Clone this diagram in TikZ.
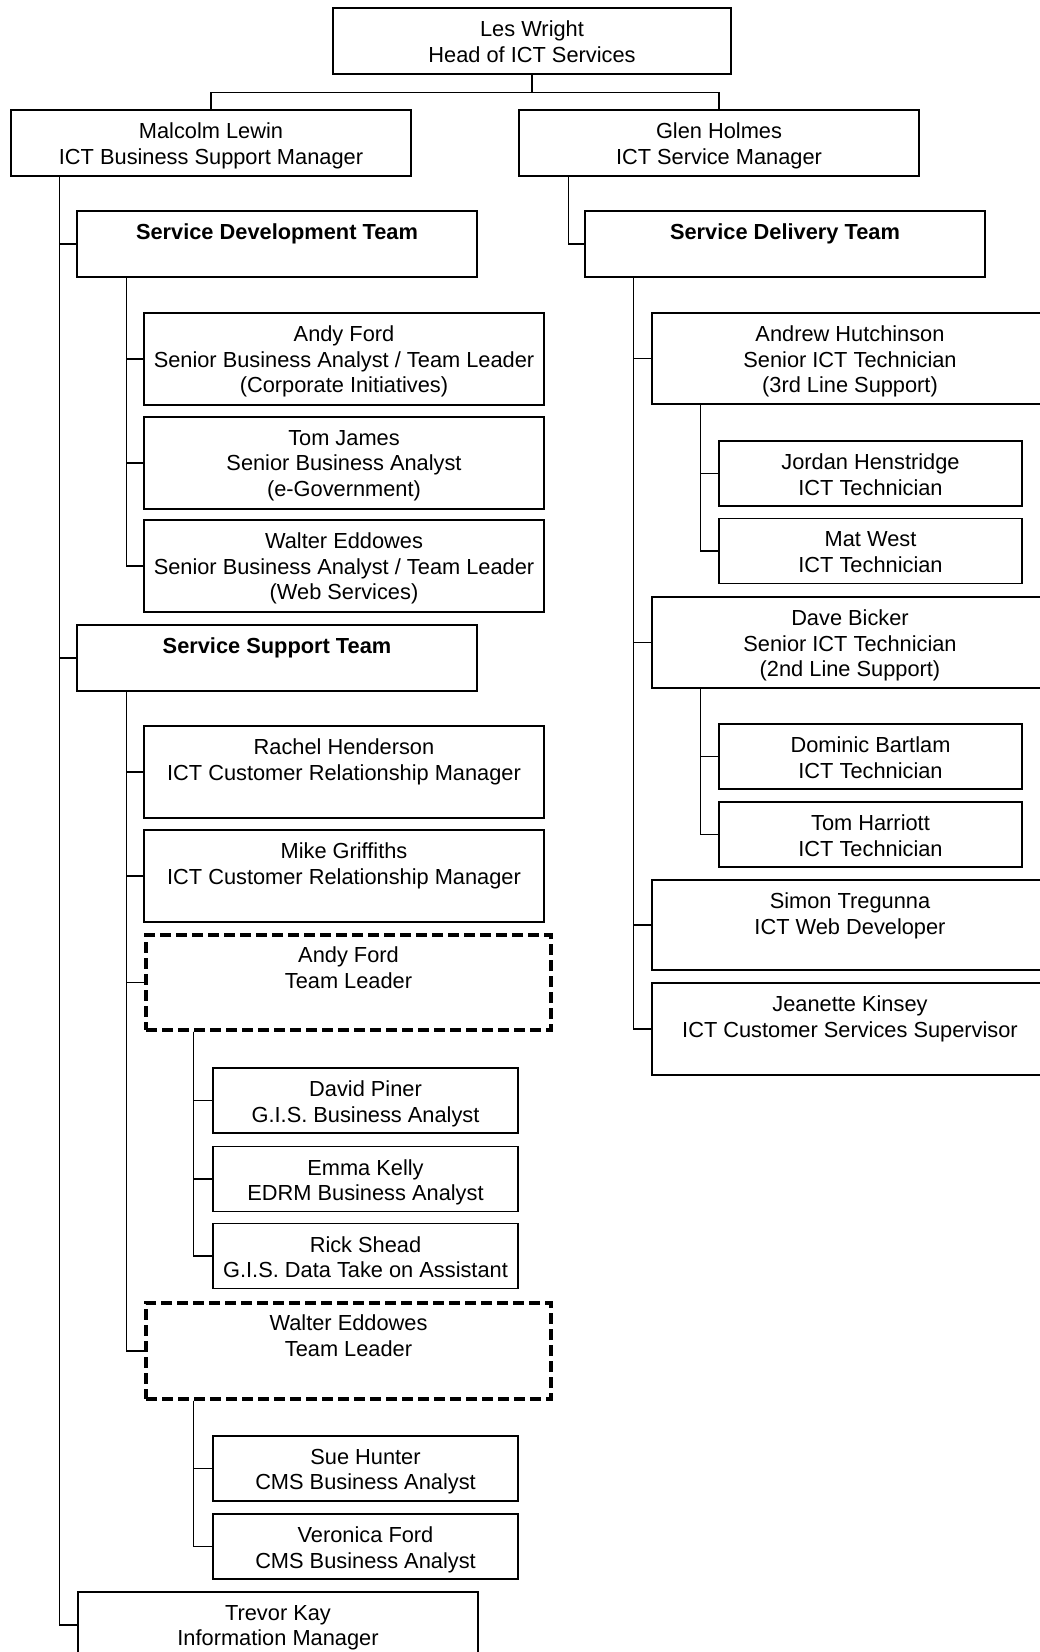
\documentclass[tikz,border=0pt]{standalone}
\usepackage{fontspec}
\setmainfont{Liberation Sans}
\usetikzlibrary{positioning,calc}
\tikzset{
  unittext/.style={anchor=north, inner sep=0pt, inner ysep=13.5pt, align=center, font=\fontsize{21.8}{25.5}\selectfont},
  unit/.style={draw=black, line width=1.1pt, rectangle, inner sep=0pt, label={[unittext]north:{#1}}},
  teamunit/.style={unit={\bfseries #1}},
  leadunit/.style={unit={#1}, line width=3.4pt, dash pattern=on 11pt off 5pt},
  wideunit/.style={minimum width=400pt},
  sideunit/.style={minimum width=396pt},
  smallunit/.style={minimum width=305pt},
  lowunit/.style={minimum height=66pt},
  highunit/.style={minimum height=92pt},
  link/.style={draw=black, line width=1.1pt}
}
\begin{document}
\begin{tikzpicture}[x=1pt, y=-1pt]
  \fill[white] (0,0) rectangle (1040,1652);
  \useasboundingbox (0,0) rectangle (1040,1652);
  \clip (0,0) rectangle (1040,1652);

  % top levels
  \node[unit={Les Wright\\Head of ICT Services}, minimum width=398pt, lowunit] (les) at (532,41) {};
  \node[unit={Malcolm Lewin\\ICT Business Support Manager}, wideunit, lowunit] (malcolm) at (211,143) {};
  \node[unit={Glen Holmes\\ICT Service Manager}, wideunit, lowunit] (glen) at (719,143) {};

  % left branch
  \node[teamunit={Service Development Team}, wideunit, lowunit] (sdev) at (277,244) {};
  \node[unit={Andy Ford\\Senior Business Analyst / Team Leader\\(Corporate Initiatives)}, wideunit, highunit] (andyf) at (344,359) {};
  \node[unit={Tom James\\Senior Business Analyst\\(e-Government)}, wideunit, highunit] (tomj) at (344,463) {};
  \node[unit={Walter Eddowes\\Senior Business Analyst / Team Leader\\(Web Services)}, wideunit, highunit] (waltere) at (344,566) {};
  \node[teamunit={Service Support Team}, wideunit, lowunit] (ssup) at (277,658) {};
  \node[unit={Rachel Henderson\\ICT Customer Relationship Manager}, wideunit, highunit] (rachel) at (344,772) {};
  \node[unit={Mike Griffiths\\ICT Customer Relationship Manager}, wideunit, highunit] (mike) at (344,876) {};
  \node[leadunit={Andy Ford\\Team Leader}, minimum width=405pt, minimum height=95pt] (andytl) at (348.5,982.5) {};
  \node[unit={David Piner\\G.I.S. Business Analyst}, smallunit, minimum height=65pt] (david) at (365.5,1100.5) {};
  \node[unit={Emma Kelly\\EDRM Business Analyst}, smallunit, minimum height=65pt] (emma) at (365.5,1179) {};
  \node[unit={Rick Shead\\G.I.S. Data Take on Assistant}, smallunit, minimum height=65pt] (rick) at (365.5,1256) {};
  \node[leadunit={Walter Eddowes\\Team Leader}, minimum width=405pt, minimum height=96pt] (waltertl) at (348.5,1351) {};
  \node[unit={Sue Hunter\\CMS Business Analyst}, smallunit, minimum height=65pt] (sue) at (365.5,1468.5) {};
  \node[unit={Veronica Ford\\CMS Business Analyst}, smallunit, minimum height=65pt] (veronica) at (365.5,1546.5) {};
  \node[unit={Trevor Kay\\Information Manager}, wideunit, lowunit] (trevor) at (278,1625) {};

  % right branch
  \node[teamunit={Service Delivery Team}, wideunit, lowunit] (sdel) at (785,244) {};
  \node[unit={Andrew Hutchinson\\Senior ICT Technician\\(3rd Line Support)}, sideunit, minimum height=91pt] (andrewh) at (850,358.5) {};
  \node[unit={Jordan Henstridge\\ICT Technician}, minimum width=303pt, minimum height=65pt] (jordan) at (870.5,473.5) {};
  \node[unit={Mat West\\ICT Technician}, minimum width=303pt, minimum height=65pt] (mat) at (870.5,551) {};
  \node[unit={Dave Bicker\\Senior ICT Technician\\(2nd Line Support)}, sideunit, minimum height=91pt] (dave) at (850,642.5) {};
  \node[unit={Dominic Bartlam\\ICT Technician}, minimum width=303pt, minimum height=65pt] (dominic) at (870.5,756.5) {};
  \node[unit={Tom Harriott\\ICT Technician}, minimum width=303pt, minimum height=65pt] (tomh) at (870.5,834.5) {};
  \node[unit={Simon Tregunna\\ICT Web Developer}, sideunit, minimum height=90pt] (simon) at (850,925) {};
  \node[unit={Jeanette Kinsey\\ICT Customer Services Supervisor}, sideunit, minimum height=92pt] (jeanette) at (850,1029) {};

  % bus points
  \coordinate (split) at ([yshift=-18pt]les.south);
  \coordinate (mlbus) at ([xshift=49pt]malcolm.south west);
  \coordinate (glbus) at ([xshift=50pt]glen.south west);
  \coordinate (sdbus) at ([xshift=50pt]sdev.south west);
  \coordinate (ssbus) at ([xshift=50pt]ssup.south west);
  \coordinate (atbus) at ([xshift=49pt]andytl.south west);
  \coordinate (wtbus) at ([xshift=49pt]waltertl.south west);
  \coordinate (dlbus) at ([xshift=49pt]sdel.south west);
  \coordinate (ahbus) at ([xshift=49pt]andrewh.south west);
  \coordinate (dbbus) at ([xshift=49pt]dave.south west);

  % connectors
  \draw[link] (les.south) -- (split);
  \draw[link] (malcolm.north) |- (split) -| (glen.north);
  \draw[link] (mlbus) |- (sdev.west);
  \draw[link] (mlbus) |- (ssup.west);
  \draw[link] (mlbus) |- (trevor.west);
  \draw[link] (sdbus) |- (andyf.west);
  \draw[link] (sdbus) |- (tomj.west);
  \draw[link] (sdbus) |- (waltere.west);
  \draw[link] (ssbus) |- (rachel.west);
  \draw[link] (ssbus) |- (mike.west);
  \draw[link] (ssbus) |- (andytl.west);
  \draw[link] (ssbus) |- (waltertl.west);
  \draw[link] (atbus) |- (david.west);
  \draw[link] (atbus) |- (emma.west);
  \draw[link] (atbus) |- (rick.west);
  \draw[link] (wtbus) |- (sue.west);
  \draw[link] (wtbus) |- (veronica.west);
  \draw[link] (glbus) |- (sdel.west);
  \draw[link] (dlbus) |- (andrewh.west);
  \draw[link] (dlbus) |- (dave.west);
  \draw[link] (dlbus) |- (simon.west);
  \draw[link] (dlbus) |- (jeanette.west);
  \draw[link] (ahbus) |- (jordan.west);
  \draw[link] (ahbus) |- (mat.west);
  \draw[link] (dbbus) |- (dominic.west);
  \draw[link] (dbbus) |- (tomh.west);
\end{tikzpicture}
\end{document}
